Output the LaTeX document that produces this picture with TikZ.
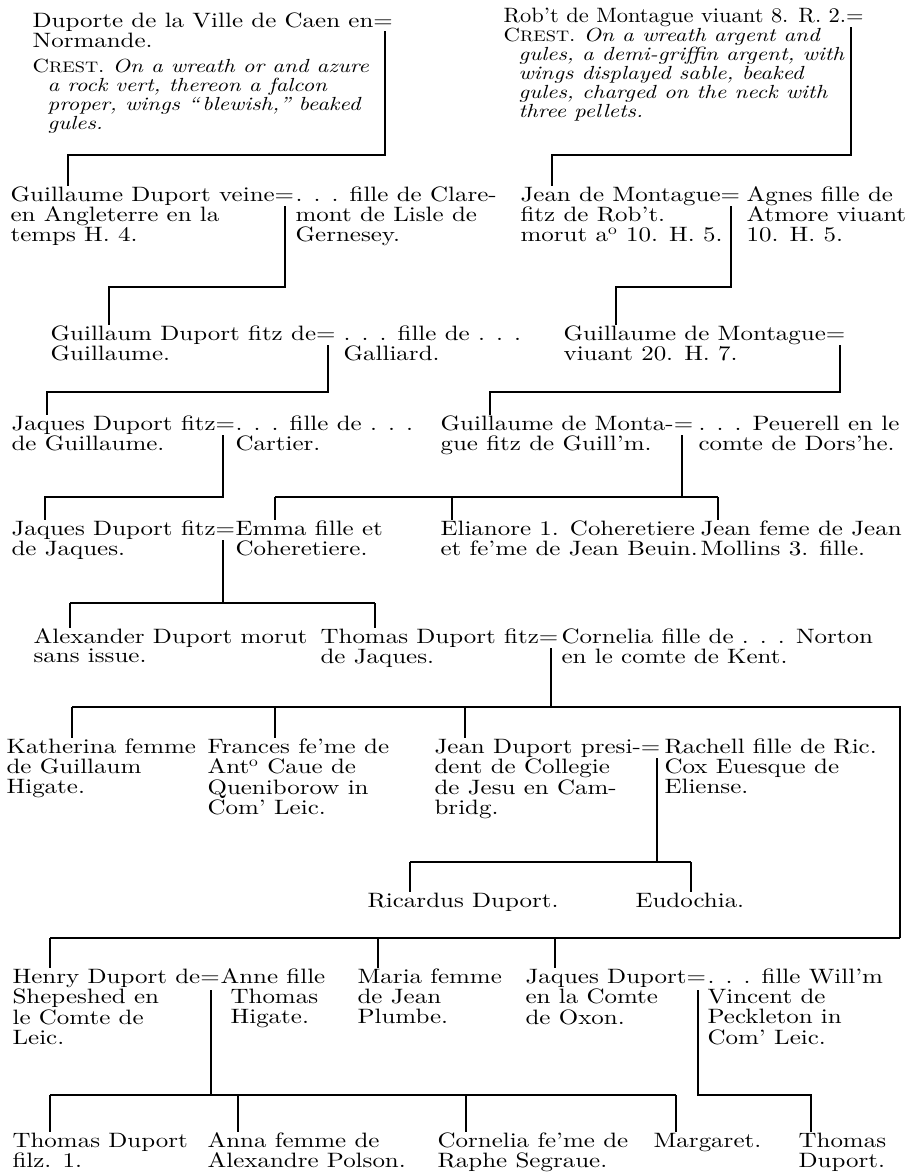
\documentclass[tikz,border=0pt]{standalone}
\usepackage{fontspec}
\usepackage{graphicx}
\setmainfont{lmroman10}[Extension=.otf, UprightFont=*-regular, ItalicFont=*-italic, FakeStretch=1.2]
\newcommand{\crestword}{{\upshape C{\fontsize{7.6}{9.5}\selectfont REST}.}}
\newcommand{\gen}[1]{\begin{tabular}[t]{@{}l@{}}#1\end{tabular}}

\begin{document}
\begin{tikzpicture}[x=0.5pt, y=-0.5pt, line width=0.6pt,
    person/.style={anchor=base west, inner sep=0pt, font=\fontsize{10.4}{9.75}\selectfont},
    arms/.style={anchor=base west, inner sep=0pt, font=\fontsize{9.5}{9.5}\selectfont\itshape}]
    \useasboundingbox (0,0) rectangle (906,1173);

    % Duporte de Caen
    \node[person] (dup) at (32,27) {\gen{Duporte de la Ville de Caen en=\\Normande.}};
    \node[arms] (dupc) at (32,72) {\gen{\crestword{} On a wreath or and azure\\
        \hspace{7.5pt}a rock vert, thereon a falcon\\
        \hspace{7.5pt}proper, wings ``\,blewish,'' beaked\\
        \hspace{7.5pt}gules.}};
    % Rob't de Montague
    \node[person] (rob) at (503,22) {\scalebox{0.9}[1]{Rob't de Montague viuant 8. R. 2.=}};
    \node[arms] (robc) at (503,41) {\gen{\crestword{} On a wreath argent and\\
        \hspace{7.5pt}gules, a demi-griffin argent, with\\
        \hspace{7.5pt}wings displayed sable, beaked\\
        \hspace{7.5pt}gules, charged on the neck with\\
        \hspace{7.5pt}three pellets.}};

    % generation 2
    \node[person] (gdv) at (10,201) {\gen{Guillaume Duport veine=\\en Angleterre en la\\temps H. 4.}};
    \node[person] (cla) at (295,201) {\gen{. . . fille de Clare-\\mont de Lisle de\\Gernesey.}};
    \node[person] (jdm) at (520,201) {\gen{Jean de Montague=\\fitz de Rob't.\\morut a\textsuperscript{o} 10. H. 5.}};
    \node[person] (agn) at (746,201) {\gen{Agnes fille de\\Atmore viuant\\10. H. 5.}};

    \coordinate (m-dup) at (385,31);
    \coordinate (b-dup) at (68,155);
    \draw (m-dup) |- (b-dup) -- (b-dup |- gdv.north);
    \coordinate (m-rob) at (851,27);
    \coordinate (b-rob) at (552,155);
    \draw (m-rob) |- (b-rob) -- (b-rob |- jdm.north);

    % generation 3
    \node[person] (gdf) at (50,340) {\gen{Guillaum Duport fitz de=\\Guillaume.}};
    \node[person] (gal) at (343,340) {\gen{. . . fille de . . .\\Galliard.}};
    \node[person] (gdm) at (563,340) {\gen{Guillaume de Montague=\\viuant 20. H. 7.}};

    \coordinate (m-gdv) at (285,206);
    \coordinate (b-gdv) at (109,287);
    \draw (m-gdv) |- (b-gdv) -- (b-gdv |- gdf.north);
    \coordinate (m-jdm) at (731,206);
    \coordinate (b-jdm) at (616,287);
    \draw (m-jdm) |- (b-jdm) -- (b-jdm |- gdm.north);

    % generation 4
    \node[person] (jdg) at (11,430) {\gen{Jaques Duport fitz=\\de Guillaume.}};
    \node[person] (car) at (235,430) {\gen{. . . fille de . . .\\Cartier.}};
    \node[person] (gmf) at (440,430) {\gen{Guillaume de Monta-=\\gue fitz de Guill'm.}};
    \node[person] (peu) at (698,430) {\gen{. . . Peuerell en le\\comte de Dors'he.}};

    \coordinate (m-gdf) at (328,345);
    \coordinate (b-gdf) at (47,392);
    \draw (m-gdf) |- (b-gdf) -- (b-gdf |- jdg.north);
    \coordinate (m-gdm) at (840,345);
    \coordinate (b-gdm) at (490,392);
    \draw (m-gdm) |- (b-gdm) -- (b-gdm |- gmf.north);

    % generation 5
    \node[person] (jdj) at (11,535) {\gen{Jaques Duport fitz=\\de Jaques.}};
    \node[person] (emm) at (235,535) {\gen{Emma fille et\\Coheretiere.}};
    \node[person] (eli) at (440,535) {\gen{Elianore 1. Coheretiere\\et fe'me de Jean Beuin.}};
    \node[person] (jfj) at (700,535) {\gen{Jean feme de Jean\\Mollins 3. fille.}};

    \coordinate (m-jdg) at (223,435);
    \coordinate (b-jdg) at (45,497);
    \draw (m-jdg) |- (b-jdg) -- (b-jdg |- jdj.north);
    \coordinate (m-gmf) at (682,435);
    \coordinate (b-emm) at (275,497);
    \coordinate (b-eli) at (452,497);
    \coordinate (b-jfj) at (718,497);
    \draw (m-gmf) -- (m-gmf |- b-emm);
    \draw (b-emm) -- (b-jfj);
    \draw (b-emm) -- (b-emm |- emm.north);
    \draw (b-eli) -- (b-eli |- eli.north);
    \draw (b-jfj) -- (b-jfj |- jfj.north);

    % generation 6
    \node[person] (ale) at (33,643) {\gen{Alexander Duport morut\\sans issue.}};
    \node[person] (tdj) at (320,643) {\gen{Thomas Duport fitz=\\de Jaques.}};
    \node[person] (cor) at (561,643) {\gen{Cornelia fille de . . . Norton\\en le comte de Kent.}};

    \coordinate (m-jdj) at (223,540);
    \coordinate (b-ale) at (70,603);
    \coordinate (b-tdj) at (375,603);
    \draw (m-jdj) -- (m-jdj |- b-ale);
    \draw (b-ale) -- (b-tdj);
    \draw (b-ale) -- (b-ale |- ale.north);
    \draw (b-tdj) -- (b-tdj |- tdj.north);

    % generation 7
    \node[person] (kat) at (6,753) {\gen{Katherina femme\\de Guillaum\\Higate.}};
    \node[person] (fra) at (207,753) {\gen{Frances fe'me de\\Ant\textsuperscript{o} Caue de\\Queniborow in\\Com' Leic.}};
    \node[person] (jdp) at (434,753) {\gen{Jean Duport presi-=\\dent de Collegie\\de Jesu en Cam-\\bridg.}};
    \node[person] (rac) at (664,753) {\gen{Rachell fille de Ric.\\Cox Euesque de\\Eliense.}};

    \coordinate (m-tdj) at (551,648);
    \coordinate (b-kat) at (72,707);
    \coordinate (b-fra) at (275,707);
    \coordinate (b-jdp) at (465,707);
    \coordinate (b-end) at (900,707);
    \coordinate (b-low) at (900,938);
    \draw (m-tdj) -- (m-tdj |- b-kat);
    \draw (b-kat) -- (b-end) -- (b-low);
    \draw (b-kat) -- (b-kat |- kat.north);
    \draw (b-fra) -- (b-fra |- fra.north);
    \draw (b-jdp) -- (b-jdp |- jdp.north);

    % generation 8
    \node[person] (ric) at (367,907) {Ricardus Duport.};
    \node[person] (eud) at (635,907) {Eudochia.};

    \coordinate (m-jdp) at (657,758);
    \coordinate (b-ric) at (410,862);
    \coordinate (b-eud) at (691,862);
    \draw (m-jdp) -- (m-jdp |- b-ric);
    \draw (b-ric) -- (b-eud);
    \draw (b-ric) -- (b-ric |- ric.north);
    \draw (b-eud) -- (b-eud |- eud.north);

    % generation 9
    \node[person] (hen) at (12,983) {\gen{Henry Duport de=\\Shepeshed en\\le Comte de\\Leic.}};
    \node[person] (ann) at (220,983) {\gen{Anne fille\\\hspace{5pt}Thomas\\\hspace{5pt}Higate.}};
    \node[person] (mar) at (357,983) {\gen{Maria femme\\de Jean\\Plumbe.}};
    \node[person] (jdo) at (525,983) {\gen{Jaques Duport=\\en la Comte\\de Oxon.}};
    \node[person] (vin) at (707,983) {\gen{. . . fille Will'm\\Vincent de\\Peckleton in\\Com' Leic.}};

    \coordinate (b-hen) at (50,938);
    \coordinate (b-mar) at (378,938);
    \coordinate (b-jdo) at (555,938);
    \draw (b-low) -- (b-hen);
    \draw (b-hen) -- (b-hen |- hen.north);
    \draw (b-mar) -- (b-mar |- mar.north);
    \draw (b-jdo) -- (b-jdo |- jdo.north);

    % generation 10
    \node[person] (tdf) at (12,1147) {\gen{Thomas Duport\\filz. 1.}};
    \node[person] (anf) at (207,1147) {\gen{Anna femme de\\Alexandre Polson.}};
    \node[person] (cfr) at (437,1147) {\gen{Cornelia fe'me de\\Raphe Segraue.}};
    \node[person] (mgt) at (653,1147) {Margaret.};
    \node[person] (tdu) at (798,1147) {\gen{Thomas\\Duport.}};

    \coordinate (m-hen) at (211,990);
    \coordinate (b-tdf) at (50,1095);
    \coordinate (b-anf) at (238,1095);
    \coordinate (b-cfr) at (466,1095);
    \coordinate (b-mgt) at (676,1095);
    \draw (m-hen) -- (m-hen |- b-tdf);
    \draw (b-tdf) -- (b-mgt);
    \draw (b-tdf) -- (b-tdf |- tdf.north);
    \draw (b-anf) -- (b-anf |- anf.north);
    \draw (b-cfr) -- (b-cfr |- cfr.north);
    \draw (b-mgt) -- (b-mgt |- mgt.north);
    \coordinate (m-jdo) at (698,990);
    \coordinate (b-tdu) at (811,1095);
    \draw (m-jdo) |- (b-tdu) -- (b-tdu |- tdu.north);
\end{tikzpicture}
\end{document}
